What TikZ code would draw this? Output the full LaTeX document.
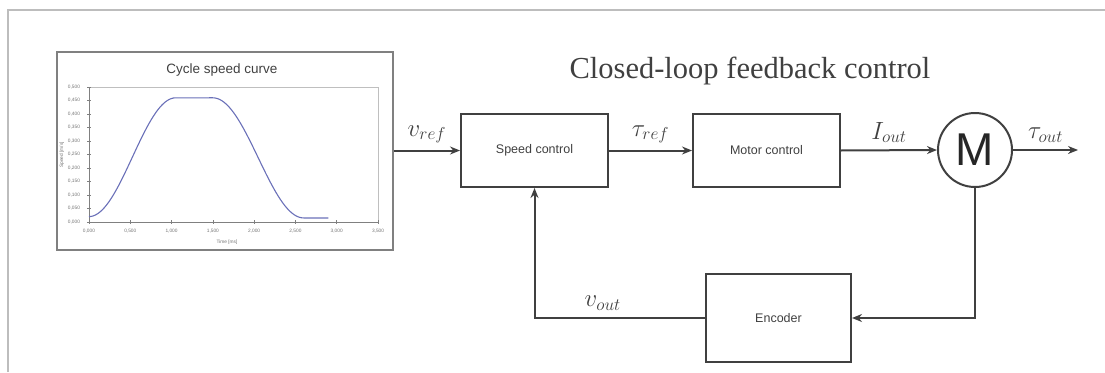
\documentclass[tikz,border=0pt]{standalone}
\usepackage{fontspec}
\setsansfont{Liberation Sans}
\newfontfamily\titlefont{Liberation Serif}
\usetikzlibrary{arrows.meta}
\definecolor{ln}{HTML}{404040}
\definecolor{fr}{HTML}{BDBDBD}
\definecolor{curve}{HTML}{6A70B8}
\tikzset{
  blk/.style={draw=ln, line width=2pt, minimum width=147pt, minimum height=73pt, font=\sffamily\fontsize{12.5}{15}\selectfont, text=ln},
  conn/.style={draw=ln, line width=2pt, -{Stealth[length=10pt,width=8pt]}},
  wire/.style={draw=ln, line width=2pt},
  lbl/.style={font=\fontsize{25}{28}\selectfont, text=ln},
  tick/.style={font=\sffamily\fontsize{4.8}{5}\selectfont, text=gray!90!black},
}
\begin{document}
\begin{tikzpicture}[x=1pt,y=-1pt]
\useasboundingbox (0,0) rectangle (1105,372);
% outer frame
\draw[fr, line width=2.5pt] (8,372) -- (8,10) -- (1105,10);
% chart
\node[draw=gray, line width=1.5pt, minimum width=336pt, minimum height=198pt, inner sep=0pt] (chart) at (225,151) {};
\node[font=\sffamily\fontsize{13.5}{15}\selectfont, text=ln] (ctitle) at (222,70) {Cycle speed curve};
\draw[gray!50, line width=0.6pt] (89,87) -- (378,87) -- (378,222);
\draw[gray, line width=1pt] (89,87) -- (89,222) -- (378,222);
\foreach \i/\t in {0/0{,}000,1/0{,}050,2/0{,}100,3/0{,}150,4/0{,}200,5/0{,}250,6/0{,}300,7/0{,}350,8/0{,}400,9/0{,}450,10/0{,}500}{
  \draw[gray, line width=0.6pt] (87,222-13.5*\i) -- (91,222-13.5*\i);
  \node[tick] at (74,222-13.5*\i) {\t};
}
\foreach \i/\t in {0/0{,}000,1/0{,}500,2/1{,}000,3/1{,}500,4/2{,}000,5/2{,}500,6/3{,}000,7/3{,}500}{
  \draw[gray, line width=0.6pt] (89+41.29*\i,220) -- (89+41.29*\i,224);
  \node[tick] at (89+41.29*\i,231) {\t};
}
\node[tick, rotate=90] at (62,155) {Speed [m/s]};
\node[tick] at (227,242) {Time [ms]};
\draw[curve, line width=1.1pt]
  plot[domain=0:1.05, samples=40] ({89+\x*82.57},{222-270*(0.02+0.22*(1-cos(180*\x/1.05)))})
  -- plot[domain=1.5:2.6, samples=40] ({89+\x*82.57},{222-270*(0.015+0.2225*(1+cos(180*(\x-1.5)/1.1)))})
  -- (89+2.9*82.57,{222-270*0.015});
% title
\node[font=\titlefont\fontsize{30.5}{34}\selectfont, text=ln, anchor=base] (title) at (750,78) {Closed-loop feedback control};
% blocks
\node[blk] (speed) at (534.5,150.5) {Speed control};
\node[blk] (motor) at (766.5,150.5) {Motor control};
\node[draw=ln, line width=2pt, circle, minimum size=74pt, inner sep=0pt, font=\sffamily\fontsize{46}{50}\selectfont, text=black!85] (M) at (975,150) {M};
\node[blk, minimum width=145pt, minimum height=88pt] (enc) at (778.5,318) {Encoder};
\coordinate (out) at (1078,150);
\coordinate (mc) at (975,318);
\coordinate (fc) at (534.5,318);
% connectors
\draw[conn] (chart.east |- speed.west) -- node[lbl, above=3pt] (vref) {$v_{ref}$} (speed.west);
\draw[conn] (speed.east) -- node[lbl, above=3pt] (tref) {$\tau_{ref}$} (motor.west);
\draw[conn] (motor.east) -- node[lbl, above=3pt] (iout) {$I_{out}$} (M.west);
\draw[conn] (M.east) -- node[lbl, above=3pt] (tout) {$\tau_{out}$} (out);
\draw[conn] (M.south) -- (mc) -- (enc.east);
\draw[conn] (enc.west) -- node[lbl, above=3pt, pos=0.6] (vout) {$v_{out}$} (fc) -- (speed.south);
\end{tikzpicture}
\end{document}
